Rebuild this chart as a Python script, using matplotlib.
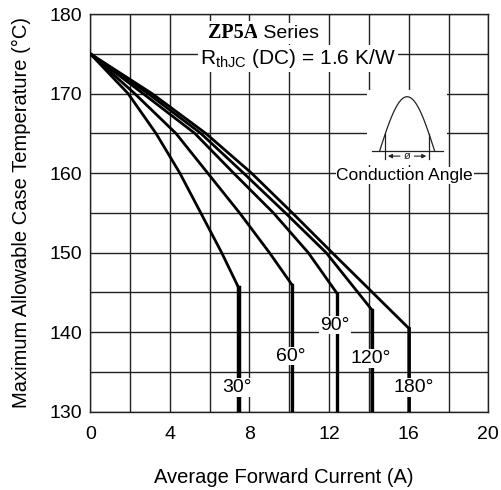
import numpy as np
import matplotlib
matplotlib.use("Agg")
import matplotlib.pyplot as plt

# ---- data ----
temps = [175, 170, 165, 160, 155, 150]
curr_30 = [0, 1.9, 3.3, 4.5, 5.55, 6.6]
curr_60 = [0, 2.23, 4.3, 5.9, 7.5, 9.0]
curr_90 = [0, 2.65, 5.25, 7.2, 9.2, 10.95]
curr_120 = [0, 2.9, 5.55, 7.7, 9.8, 11.85]
curr_180 = [0, 3.1, 5.8, 8.1, 10.15, 12.15]
end_current = [7.47, 10.15, 12.42, 14.15, 16.0]
end_temp = [145.5, 145.9, 144.8, 142.8, 140.5]
angles = ["30°", "60°", "90°", "120°", "180°"]
label_pos_x = [7.39, 10.07, 12.3, 14.09, 16.23]
label_pos_y = [133.1, 137.0, 140.9, 136.7, 133.1]
y_floor = 130

series = [curr_30, curr_60, curr_90, curr_120, curr_180]

plt.rcParams['font.family'] = ['Liberation Sans', 'DejaVu Sans']

fig = plt.figure(figsize=(5.01, 4.90), dpi=100)
ax = fig.add_axes([0.1802, 0.1598, 0.7945, 0.8116])

ax.set_xlim(0, 20)
ax.set_ylim(130, 180)
ax.set_xticks(np.arange(0, 21, 2), minor=True)
ax.set_yticks(np.arange(130, 181, 5), minor=True)
ax.set_xticks(np.arange(0, 21, 4))
ax.set_yticks(np.arange(130, 181, 10))
ax.grid(True, which='both', color='#222222', lw=1.0, zorder=1)
ax.tick_params(which='both', length=0, labelsize=14)
ax.tick_params(axis='x', pad=10)
ax.tick_params(axis='y', pad=6)
for s in ax.spines.values():
    s.set_color('#222222')
    s.set_linewidth(1.0)

lws = [3.2, 2.4, 2.4, 2.4, 2.0]
for cur, xe, ye, lw in zip(series, end_current, end_temp, lws):
    xs = list(cur) + [xe, xe]
    ys = list(temps) + [ye, y_floor]
    ax.plot(xs, ys, color='black', lw=2.0, zorder=3, solid_joinstyle='round')
    ax.plot([xe, xe], [ye, y_floor], color='black', lw=lw, zorder=3)

for lab, lx, ly in zip(angles, label_pos_x, label_pos_y):
    ax.text(lx, ly, lab, ha='center', va='center', fontsize=14, zorder=5,
            bbox=dict(boxstyle='square,pad=0.05', fc='white', ec='none'))

# title block
ax.text(8.45, 177.6, "ZP5A", ha='right', va='center', fontsize=14.5,
        family=['Liberation Serif'], weight='bold', zorder=5,
        bbox=dict(boxstyle='square,pad=0.1', fc='white', ec='none'))
ax.text(8.45, 177.6, " Series", ha='left', va='center', fontsize=14, zorder=5,
        bbox=dict(boxstyle='square,pad=0.1', fc='white', ec='none'))
ax.text(10.45, 174.4, r"R$_{\mathregular{thJC}}$ (DC) = 1.6 K/W", ha='center',
        va='center', fontsize=15, zorder=5,
        bbox=dict(boxstyle='square,pad=0.1', fc='white', ec='none'))

# conduction angle inset
ins = ax.inset_axes([0.695, 0.62, 0.2, 0.189])
ins.set_zorder(4)
ins.set_xlim(0, 1)
ins.set_ylim(0, 1)
ins.axis('off')
ins.add_patch(plt.Rectangle((0, 0), 1, 1, fc='white', ec='none', transform=ins.transAxes))
ph = np.linspace(0, np.pi, 100)
wx0, wx1, base, top = 0.16, 0.85, 0.19, 0.91
ins.plot(wx0 + (wx1 - wx0) * ph / np.pi, base + (top - base) * np.sin(ph), color='#222222', lw=0.9)
ins.plot([0.06, 0.95], [base, base], color='#222222', lw=0.9)
fa, fb = 0.1 * np.pi, 0.9 * np.pi
xa = wx0 + (wx1 - wx0) * fa / np.pi
xb = wx0 + (wx1 - wx0) * fb / np.pi
for xv, f in ((xa, fa), (xb, fb)):
    ins.plot([xv, xv], [0.08, base + (top - base) * np.sin(f)], color='#222222', lw=0.9)
ins.annotate("", xy=(xa, 0.12), xytext=(0.45, 0.12),
             arrowprops=dict(arrowstyle='-|>', lw=0.8, color='#222222', mutation_scale=6))
ins.annotate("", xy=(xb, 0.12), xytext=(0.56, 0.12),
             arrowprops=dict(arrowstyle='-|>', lw=0.8, color='#222222', mutation_scale=6))
ins.text(0.505, 0.12, "ø", ha='center', va='center', fontsize=8, color='#222222')

ax.text(15.8, 159.7, "Conduction Angle", ha='center', va='center', fontsize=12.5, zorder=5,
        bbox=dict(boxstyle='square,pad=0.05', fc='white', ec='none'))

ax.set_xlabel("Average Forward Current (A)", fontsize=14.5, labelpad=17)
ax.xaxis.set_label_coords(0.487, -0.142)
ax.set_ylabel("Maximum Allowable Case Temperature (°C)", fontsize=14.5, labelpad=13)

fig.savefig("out.png", dpi=100)
